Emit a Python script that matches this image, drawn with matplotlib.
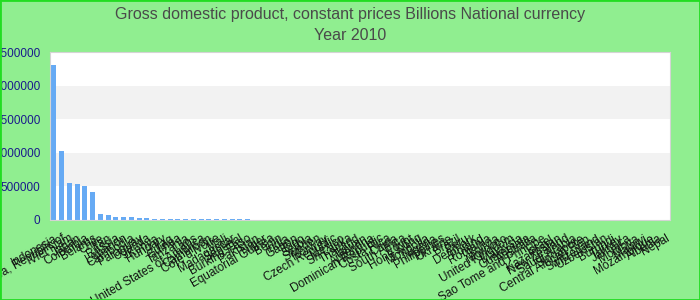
import matplotlib
matplotlib.use("Agg")
import matplotlib.pyplot as plt
import numpy as np

# GDP, constant prices, billions of national currency, 2010
countries = [
    "Indonesia", "Korea, Republic of", "Viet Nam", "Japan", "Colombia",
    "Belarus", "Chile", "Iran", "Russia", "Lebanon",
    "Cambodia", "Paraguay", "Uganda", "Kenya", "Hungary",
    "Iraq", "Guinea", "Tanzania", "Laos", "United States of America",
    "Cameroon", "Cote d'Ivoire", "Mali", "Madagascar", "Senegal",
    "Burkina Faso", "Pakistan", "Niger", "Equatorial Guinea", "Benin",
    "India", "Gabon", "Togo", "Serbia", "Sweden",
    "Norway", "Czech Republic", "Mexico", "Sri Lanka", "Thailand",
    "Taiwan", "Argentina", "Dominican Republic", "Costa Rica", "China",
    "South Africa", "Egypt", "Hong Kong", "Mongolia", "Nigeria",
    "Philippines", "Ukraine", "Brazil", "Peru", "Denmark",
    "Poland", "Romania", "Bolivia", "Morocco", "United Kingdom",
    "Malaysia", "Guatemala", "Australia", "Sao Tome and Principe", "Israel",
    "Kazakhstan", "New Zealand", "Saudi Arabia", "Singapore", "Central African Rep.",
    "Switzerland", "Uzbekistan", "Burundi", "Turkey", "Jamaica",
    "Moldova", "Malawi", "Mozambique", "Albania", "Nepal",
]
gdp = [
    2300000, 1030000, 549000, 534000, 505000,
    417000, 93000, 74000, 49000, 44000,
    44000, 29000, 29000, 13000, 12000,
    12000, 11000, 11000, 10500, 10000,
    10000, 9500, 9000, 8500, 8000,
    7500, 2500, 2300, 2100, 2000,
    1900, 1800, 1700, 1600, 1550,
    1500, 1450, 1400, 1350, 1300,
    1250, 1200, 1150, 1100, 1050,
    1000, 950, 900, 850, 800,
    760, 720, 680, 640, 600,
    560, 520, 480, 440, 400,
    370, 340, 310, 280, 250,
    220, 200, 180, 160, 140,
    120, 100, 90, 80, 70,
    60, 50, 40, 30, 20,
]
y_ticks = [0, 500000, 1000000, 1500000, 2000000, 2500000]

fig = plt.figure(figsize=(7, 3), dpi=100, facecolor="#90ee90")
fig.patches.append(plt.Rectangle((0, 0), 1, 1, transform=fig.transFigure,
                                 fill=False, edgecolor="#22dd22", lw=2))
ax = fig.add_axes([50 / 700, 80 / 300, 620 / 700, 168 / 300])
ax.set_facecolor("white")

# alternating horizontal bands
for lo, hi in zip(y_ticks[:-1], y_ticks[1:]):
    if (lo // 500000) % 2 == 1:
        ax.axhspan(lo, hi, color="#f2f2f2", zorder=0, lw=0)

x = np.arange(len(countries))
ax.bar(x, gdp, width=0.65, color="#66aaf4", zorder=2)

ax.set_xlim(-0.5, len(countries) - 0.5)
ax.set_ylim(0, 2500000)
ax.set_yticks(y_ticks)
ax.set_yticklabels([str(v) for v in y_ticks], color="#1a1a8c", fontsize=8.5,
                   family="Liberation Sans")
ax.set_xticks(x)
ax.set_xticklabels(countries, rotation=30, ha="right", rotation_mode="anchor",
                   fontsize=8.5, family="Liberation Sans", color="#111111")
ax.tick_params(axis="both", length=0)
ax.tick_params(axis="x", pad=9)
ax.tick_params(axis="y", pad=7)
for s in ax.spines.values():
    s.set_color("#d4d4d4")

fig.text(0.5, 1 - 14 / 300, "Gross domestic product, constant prices Billions National currency",
         ha="center", va="center", fontsize=11.5, color="#4a4a4a", family="Liberation Sans")
fig.text(0.5, 1 - 36 / 300, "Year 2010", ha="center", va="center",
         fontsize=11.5, color="#4a4a4a", family="Liberation Sans")

fig.savefig("out.png", dpi=100, facecolor=fig.get_facecolor())
